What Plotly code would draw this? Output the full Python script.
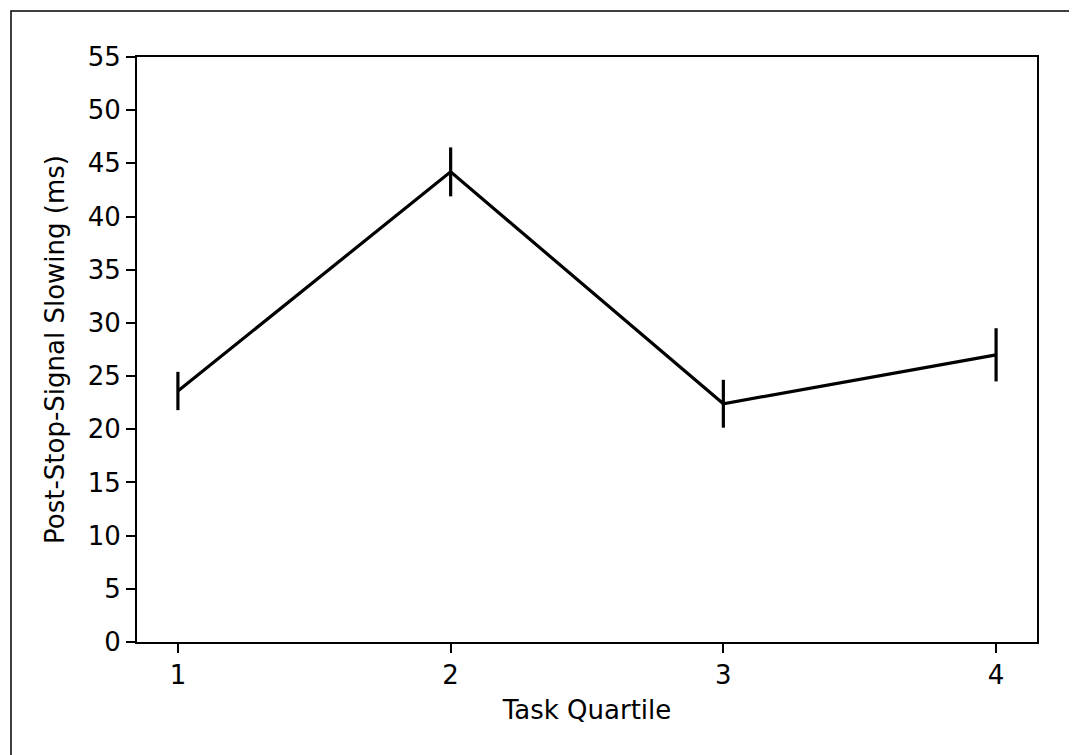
import plotly.graph_objects as go

quartiles = [1, 2, 3, 4]
pss_ms = [23.6, 44.2, 22.4, 27.0]
sem_ms = [1.8, 2.3, 2.25, 2.5]
y_ticks = list(range(0, 56, 5))

# page body margin is 8px; shift the figure so it lands where the reference is
OFF = 8
W, H = 1077 - OFF, 755 - OFF
L, R, T, B = 137 - OFF, 1037 - OFF, 57 - OFF, 642 - OFF
pw, ph = R - L, B - T

fig = go.Figure()
fig.add_trace(go.Scatter(
    x=quartiles, y=pss_ms, mode="lines",
    line=dict(color="black", width=3.2),
    error_y=dict(type="data", array=sem_ms, visible=True,
                 color="black", thickness=3.2, width=0),
    showlegend=False,
))

tick_font = dict(family="DejaVu Sans", size=26, color="black")
title_font = dict(family="DejaVu Sans", size=26, color="black")
fig.update_layout(
    width=W, height=H,
    margin=dict(l=L, r=W - R, t=T, b=H - B, pad=0),
    plot_bgcolor="white", paper_bgcolor="white",
    font=tick_font,
    xaxis=dict(range=[0.85, 4.15], tickvals=quartiles, tickfont=tick_font,
               showline=True, linecolor="black", linewidth=2, mirror=True,
               ticks="outside", ticklen=9, tickwidth=2, tickcolor="black",
               showgrid=False, zeroline=False,
               title=dict(text="Task Quartile", standoff=12, font=title_font)),
    yaxis=dict(range=[0, 55], tickvals=y_ticks, tickfont=tick_font,
               showline=True, linecolor="black", linewidth=2, mirror=True,
               ticks="outside", ticklen=9, tickwidth=2, tickcolor="black",
               showgrid=False, zeroline=False,
               title=dict(text="Post-Stop-Signal Slowing (ms)", standoff=16, font=title_font)),
)

fig.add_shape(type="rect", xref="paper", yref="paper",
              x0=(11 - OFF - L) / pw, x1=(1072 - OFF - L) / pw,
              y0=(B - (765 - OFF)) / ph, y1=(B - (11 - OFF)) / ph,
              line=dict(color="black", width=1.5), fillcolor="rgba(0,0,0,0)",
              layer="below")

fig.write_html("out.html")
